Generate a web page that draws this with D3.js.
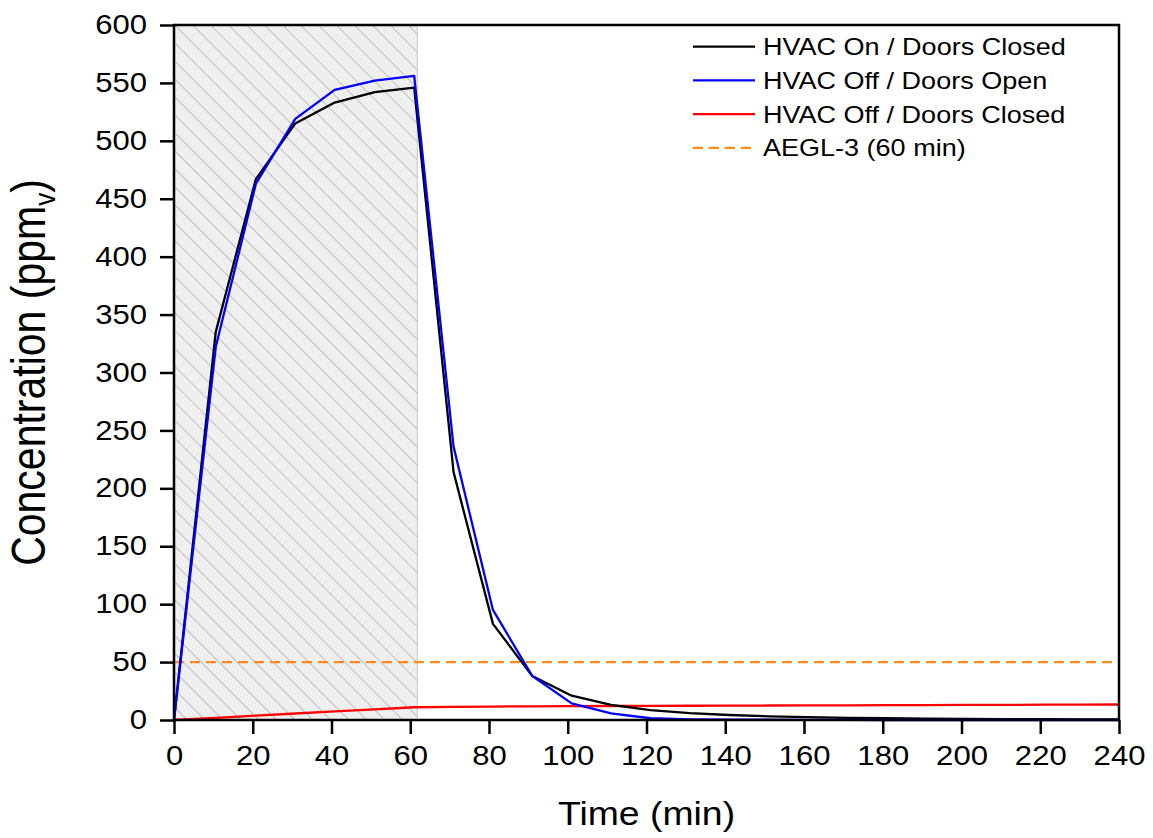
<!DOCTYPE html>
<html>
<head>
<meta charset="utf-8">
<script src="https://cdn.jsdelivr.net/npm/d3@7"></script>
<style>
  body { margin: 0; background: #fff; }
  svg { display: block; font-family: 'Liberation Sans', Arial, sans-serif; }
</style>
</head>
<body>
<svg id="chart" width="1153" height="838"></svg>
<script>
// sample times (min)
const times = [0, 10.6, 20.8, 30.8, 40.8, 51, 61, 71, 81, 91, 101, 111, 121, 131, 141, 151, 161, 171, 181, 191, 201, 211, 221, 231, 240];
const hvacOnClosed = [0, 335, 467, 515, 533, 542, 546, 214, 83, 38, 21, 13, 8.6, 6, 4.3, 3.2, 2.4, 1.9, 1.5, 1.2, 1.0, 0.8, 0.7, 0.6, 0.5];
const hvacOffOpen = [0, 322, 463, 519, 544, 552, 556, 236, 95, 38, 14.4, 5.8, 1.5, 0.6, 0.3, 0.2, 0.1, 0.1, 0, 0, 0, 0, 0, 0, 0];
const hvacOffClosed = [0, 1.9, 3.8, 5.6, 7.4, 9.2, 11, 11.3, 11.6, 11.8, 12, 12.1, 12.2, 12.3, 12.4, 12.5, 12.6, 12.7, 12.8, 12.9, 13.0, 13.1, 13.2, 13.3, 13.4];
const aeglLevel = 50;
const releaseWindow = [0, 61.8];

const seriesNames = ['HVAC On / Doors Closed', 'HVAC Off / Doors Open', 'HVAC Off / Doors Closed', 'AEGL-3 (60 min)'];
const seriesColors = ['#000000', '#0000ff', '#ff0000', '#ff8c1a'];
const xTicks = d3.range(0, 241, 20);
const yTicks = d3.range(0, 601, 50);

const svg = d3.select('#chart');
const margin = { top: 25, right: 34, bottom: 118, left: 174 };
const width = 1153 - margin.left - margin.right;
const height = 838 - margin.top - margin.bottom;
const sx = 1.15; // glyphs in the reference are a bit wide

const x = d3.scaleLinear().domain([0, 240]).range([0, width]);
const y = d3.scaleLinear().domain([0, 600]).range([height, 0]);

const g = svg.append('g').attr('transform', `translate(${margin.left},${margin.top})`);

// hatch pattern for the release window
const defs = svg.append('defs');
const pat = defs.append('pattern')
  .attr('id', 'hatch')
  .attr('patternUnits', 'userSpaceOnUse')
  .attr('width', 12.7).attr('height', 12.7)
  .attr('patternTransform', 'rotate(-45)');
pat.append('rect').attr('width', 12.7).attr('height', 12.7).attr('fill', '#efefef');
pat.append('line').attr('x1', 0).attr('y1', 0).attr('x2', 0).attr('y2', 12.7)
  .attr('stroke', '#a0a0a0').attr('stroke-width', 1.2);

g.append('rect')
  .attr('x', x(releaseWindow[0]))
  .attr('y', 0)
  .attr('width', x(releaseWindow[1]) - x(releaseWindow[0]))
  .attr('height', height)
  .attr('fill', 'url(#hatch)');
g.append('line')
  .attr('x1', x(releaseWindow[1])).attr('x2', x(releaseWindow[1]))
  .attr('y1', 0).attr('y2', height)
  .attr('stroke', '#cfcfcf').attr('stroke-width', 1.2);

// AEGL-3 threshold
g.append('line')
  .attr('x1', x(0)).attr('x2', x(240))
  .attr('y1', y(aeglLevel)).attr('y2', y(aeglLevel))
  .attr('stroke', seriesColors[3]).attr('stroke-width', 2.4)
  .attr('stroke-dasharray', '10,6');

const line = d3.line().x((d, i) => x(times[i])).y((d) => y(d));
[[hvacOffClosed, 2], [hvacOnClosed, 0], [hvacOffOpen, 1]].forEach(([vals, ci]) => {
  g.append('path')
    .datum(vals)
    .attr('d', line)
    .attr('fill', 'none')
    .attr('stroke', seriesColors[ci])
    .attr('stroke-width', 2.3)
    .attr('stroke-linejoin', 'round');
});

// axes: major + minor ticks outward
const xAxis = g.append('g').attr('transform', `translate(0,${height})`);
xAxis.call(d3.axisBottom(x).tickValues(d3.range(10, 240, 20)).tickSize(8).tickFormat(''));
xAxis.call(d3.axisBottom(x).tickValues(xTicks).tickSize(14).tickPadding(12).tickFormat(d3.format('d')));
xAxis.selectAll('text')
  .attr('font-size', 27).attr('fill', '#000')
  .attr('transform', `scale(${sx},1)`);

const yAxis = g.append('g');
yAxis.call(d3.axisLeft(y).tickValues(d3.range(25, 600, 50)).tickSize(8).tickFormat(''));
yAxis.call(d3.axisLeft(y).tickValues(yTicks).tickSize(14).tickFormat(d3.format('d')));
yAxis.selectAll('text')
  .attr('font-size', 27).attr('fill', '#000')
  .attr('x', -27 / sx)
  .attr('transform', `scale(${sx},1)`);

g.selectAll('.domain').remove();
g.selectAll('.tick line').attr('stroke', '#000').attr('stroke-width', 2.5);

// frame
g.append('rect')
  .attr('width', width).attr('height', height)
  .attr('fill', 'none').attr('stroke', '#000').attr('stroke-width', 2.5);

// axis titles
svg.append('text')
  .attr('transform', `translate(${margin.left + width / 2},825) scale(${sx},1)`)
  .attr('text-anchor', 'middle')
  .attr('font-size', 32.5)
  .text('Time (min)');

const yt = svg.append('text')
  .attr('transform', `translate(45,${margin.top + height / 2}) scale(${sx},1) rotate(-90)`)
  .attr('text-anchor', 'middle')
  .attr('font-size', 41);
yt.append('tspan').text('Concentration (ppm');
yt.append('tspan').attr('font-size', 26).attr('dy', 9).text('v');
yt.append('tspan').attr('dy', -9).text(')');

// legend
const legend = g.append('g').attr('transform', `translate(${693 - margin.left},${46.7 - margin.top})`);
seriesNames.forEach((name, i) => {
  const row = legend.append('g').attr('transform', `translate(0,${i * 33.7})`);
  row.append('line')
    .attr('x1', 0).attr('x2', 62).attr('y1', 0).attr('y2', 0)
    .attr('stroke', seriesColors[i]).attr('stroke-width', 2.2)
    .attr('stroke-dasharray', i === 3 ? '10,6' : null);
  row.append('text')
    .attr('transform', `translate(70,0) scale(${sx},1)`)
    .attr('dy', '0.36em')
    .attr('font-size', 23.5)
    .text(name);
});
</script>
</body>
</html>
